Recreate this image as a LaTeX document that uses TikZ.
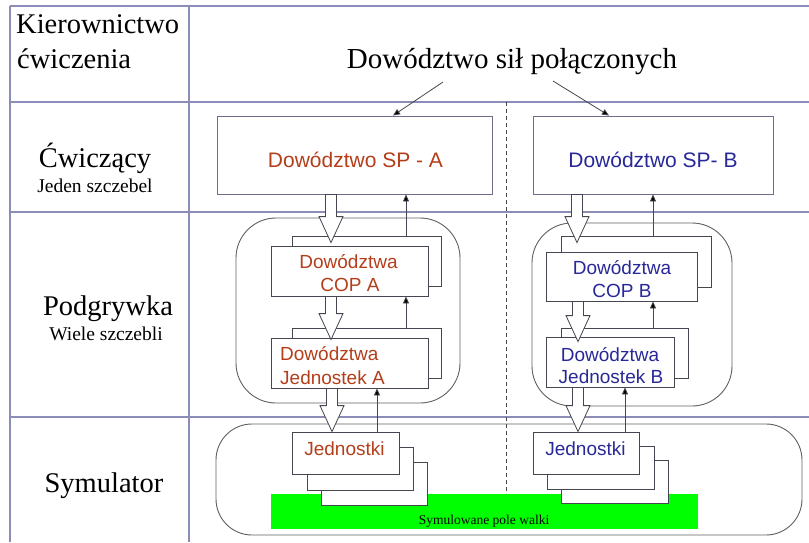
\documentclass[tikz,border=0pt]{standalone}
\usepackage{fontspec}
\setmainfont{Liberation Serif}
\newfontfamily\arialfont{Liberation Sans}
\usetikzlibrary{arrows.meta,calc}
\definecolor{gridc}{RGB}{140,140,184}
\definecolor{boxc}{RGB}{70,70,80}
\definecolor{spboxc}{RGB}{110,110,140}
\definecolor{roundc}{RGB}{95,95,95}
\definecolor{sideA}{RGB}{180,62,26}
\definecolor{sideB}{RGB}{40,40,152}
\definecolor{fieldgreen}{RGB}{0,255,0}

% hollow block arrow from #1 (shaft start) down to #2 (tip)
\newcommand\fatarrow[2]{%
  \draw[hollow] let \p1=(#1), \p2=(#2) in
    (\x1-5.5pt,\y1) -- (\x1-5.5pt,\y2+26pt) -- (\x1-12pt,\y2+26pt) --
    (\x1,\y2) -- (\x1+12pt,\y2+26pt) -- (\x1+5.5pt,\y2+26pt) --
    (\x1+5.5pt,\y1) -- cycle;}

\begin{document}
\begin{tikzpicture}[x=1pt,y=-1pt,
  gridline/.style={draw=gridc, line width=1.1pt},
  panel/.style={draw=boxc, fill=white, line width=0.8pt, inner sep=0pt},
  spbox/.style={draw=spboxc, fill=white, line width=0.9pt, inner sep=0pt},
  container/.style={draw=roundc, line width=0.9pt, inner sep=0pt},
  hollow/.style={draw=boxc, fill=white, line width=0.8pt, line join=miter},
  uparrow/.style={draw=boxc, line width=0.8pt, -{Triangle[length=7pt,width=6pt,fill=black]}},
  rowhead/.style={font=\fontsize{28.5}{30}\selectfont, anchor=base, inner sep=0pt},
  rowsub/.style={font=\fontsize{19.5}{21}\selectfont, anchor=base, inner sep=0pt},
  lblA/.style={font=\arialfont\fontsize{19}{21}\selectfont, text=sideA, anchor=base, inner sep=0pt},
  lblB/.style={font=\arialfont\fontsize{19}{21}\selectfont, text=sideB, anchor=base, inner sep=0pt}]
\useasboundingbox (0,0) rectangle (809,542);

% table grid
\draw[gridline] (10,6) -- (809,6);
\draw[gridline] (10,102) -- (809,102);
\draw[gridline] (10,212) -- (809,212);
\draw[gridline] (10,417) -- (809,417);
\draw[gridline] (10,6) -- (10,542);
\draw[gridline] (189,6) -- (189,542);

% dividing line between the two sides
\draw[boxc, line width=0.8pt, dash pattern=on 4pt off 3pt] (506,102) -- (506,493);

% row headings
\node[rowhead, anchor=base west] (hk1) at (16,33) {Kierownictwo};
\node[rowhead, anchor=base west] (hk2) at (17,68) {ćwiczenia};
\node[rowhead] (hc) at (95,167) {Ćwiczący};
\node[rowsub] (hcs) at (95,192) {Jeden szczebel};
\node[rowhead] (hp) at (108,315) {Podgrywka};
\node[rowsub] (hps) at (106,340) {Wiele szczebli};
\node[rowhead] (hs) at (104,492) {Symulator};

% joint command
\node[rowhead, font=\fontsize{29}{31}\selectfont] (title) at (512,68) {Dowództwo sił połączonych};
\coordinate (tl) at (443,82);
\coordinate (tr) at (553,81);

% containers
\node[container, rounded corners=40pt, minimum width=224pt, minimum height=185pt] (podA) at (348,310.5) {};
\node[container, rounded corners=40pt, minimum width=200pt, minimum height=183pt] (podB) at (632,314.5) {};
\node[container, rounded corners=36pt, minimum width=586pt, minimum height=111pt] (sim) at (509,479.5) {};
\node[fill=fieldgreen, inner sep=0pt, minimum width=427pt, minimum height=35pt] (field) at (484.5,511.5) {};
\node[font=\fontsize{13.5}{15}\selectfont, anchor=base, inner sep=0pt] (fieldtxt) at (484,524) {Symulowane pole walki};

% side A
\node[spbox, minimum width=275pt, minimum height=78pt] (spA) at (354.5,155) {};
\node[panel, minimum width=149pt, minimum height=50pt] (copAback) at (366.5,261) {};
\node[panel, minimum width=157pt, minimum height=50pt] (copA) at (349.5,271) {};
\node[panel, minimum width=149pt, minimum height=50pt] (jedAback) at (366.5,353) {};
\node[panel, minimum width=157pt, minimum height=50pt] (jedA) at (349.5,363) {};
\node[panel, minimum width=106pt, minimum height=43pt] (unitsA3) at (374,483.5) {};
\node[panel, minimum width=106pt, minimum height=43pt] (unitsA2) at (360,468.5) {};
\node[panel, minimum width=107pt, minimum height=42pt] (unitsA) at (345.5,453) {};

% side B
\node[spbox, minimum width=240pt, minimum height=78pt] (spB) at (653,155) {};
\node[panel, minimum width=150pt, minimum height=51pt] (copBback) at (636,261.5) {};
\node[panel, minimum width=151pt, minimum height=49pt] (copB) at (621.5,276.5) {};
\node[panel, minimum width=127pt, minimum height=50pt] (jedBback) at (624.5,353) {};
\node[panel, minimum width=128pt, minimum height=50pt] (jedB) at (610,362) {};
\node[panel, minimum width=107pt, minimum height=43pt] (unitsB3) at (614.5,481.5) {};
\node[panel, minimum width=107pt, minimum height=43pt] (unitsB2) at (600.5,467.5) {};
\node[panel, minimum width=106pt, minimum height=42pt] (unitsB) at (586,453) {};

% reports upward
\draw[uparrow] (tl) -- (393,0 |- spA.north);
\draw[uparrow] (tr) -- (609,0 |- spB.north);
\draw[uparrow] (406,0 |- copAback.north) -- (406,0 |- spA.south);
\draw[uparrow] (406,0 |- jedAback.north) -- (406,0 |- copA.south);
\draw[uparrow] (377,0 |- unitsA.north) -- (377,0 |- jedA.south);
\draw[uparrow] (653,0 |- copBback.north) -- (653,0 |- spB.south);
\draw[uparrow] (653,0 |- jedBback.north) -- (653,0 |- copB.south);
\draw[uparrow] (625,0 |- unitsB.north) -- (625,0 |- jedB.south);

% orders downward
\fatarrow{331,0 |- spA.south}{$(331,0 |- copAback.north)+(0,7)$}
\fatarrow{331,0 |- copA.south}{$(331,0 |- jedA.north)+(0,2)$}
\fatarrow{332,0 |- jedA.south}{332,0 |- unitsA.north}
\fatarrow{577,0 |- spB.south}{$(577,0 |- copBback.north)+(0,7)$}
\fatarrow{578,0 |- copB.south}{$(578,0 |- jedB.north)+(0,5)$}
\fatarrow{578,0 |- jedB.south}{578,0 |- unitsB.north}

% labels
\node[lblA, font=\arialfont\fontsize{21}{23}\selectfont] (tspA) at (355.5,167) {Dowództwo SP - A};
\node[lblA] (tcopA1) at (348.5,268) {Dowództwa};
\node[lblA] (tcopA2) at (350,291) {COP A};
\node[lblA, anchor=base west] (tjedA1) at (280,360) {Dowództwa};
\node[lblA, anchor=base west] (tjedA2) at (280,384) {Jednostek A};
\node[lblA] (tunitsA) at (344.5,455) {Jednostki};

\node[lblB, font=\arialfont\fontsize{21}{23}\selectfont] (tspB) at (653,167) {Dowództwo SP- B};
\node[lblB] (tcopB1) at (622,274) {Dowództwa};
\node[lblB] (tcopB2) at (622,297) {COP B};
\node[lblB] (tjedB1) at (610,361) {Dowództwa};
\node[lblB] (tjedB2) at (611,383) {Jednostek B};
\node[lblB] (tunitsB) at (585.5,455) {Jednostki};
\end{tikzpicture}
\end{document}
